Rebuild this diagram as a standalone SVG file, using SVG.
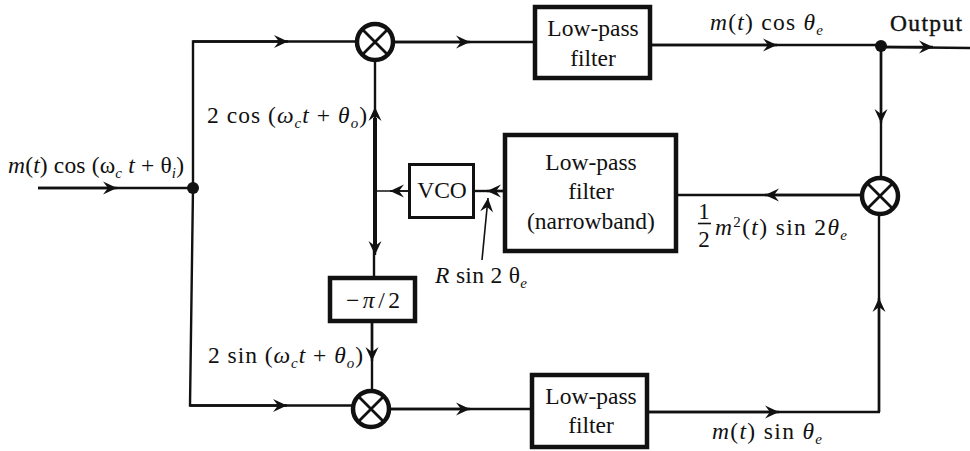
<svg xmlns="http://www.w3.org/2000/svg" width="970" height="451" viewBox="0 0 970 451">
<style>
text{font-family:"Liberation Serif","DejaVu Serif",serif;font-size:23.5px;fill:#111}
.i{font-style:italic}
.s{font-size:15px}
.c{text-anchor:middle}
.box{fill:#fff;stroke:#111}
.w{fill:none;stroke:#111;stroke-width:2.4}
.t{fill:none;stroke:#111;stroke-width:1.6}
.k{fill:none;stroke:#111;stroke-width:4}
.m{fill:#fff;stroke:#111;stroke-width:4.5}
.x{stroke:#111;stroke-width:2.8}
</style>
<defs>
<marker id="a" markerUnits="userSpaceOnUse" markerWidth="18" markerHeight="16" refX="15" refY="8" orient="auto">
<path d="M1 1.500L15 8L1 14.500L6 8Z" fill="#111"/>
</marker>
</defs>
<g id="connectors">
<path class="w" d="M38 188H192"/>
<path class="w" d="M38 188H117" marker-end="url(#a)"/>
<path class="w" d="M193 188V41.500H357"/>
<path class="w" d="M193 188L190 405.500H353"/>
<path class="w" d="M193 41.500H288" marker-end="url(#a)"/>
<path class="w" d="M190 405.500H287" marker-end="url(#a)"/>
<path class="w" d="M393 42H534"/>
<path class="w" d="M393 42H470" marker-end="url(#a)"/>
<path class="w" d="M651 45H881"/>
<path class="w" d="M651 45H777" marker-end="url(#a)"/>
<path class="w" d="M881 46V179"/>
<path class="w" d="M881 46V123" marker-end="url(#a)"/>
<path class="w" d="M881 47L970 48"/>
<path class="w" d="M881 47H933" marker-end="url(#a)"/>
<path class="w" d="M879 214V412"/>
<path class="w" d="M879 412V298" marker-end="url(#a)"/>
<path class="w" d="M648 412H880"/>
<path class="w" d="M648 412H779" marker-end="url(#a)"/>
<path class="w" d="M389 409H530"/>
<path class="w" d="M389 409H470" marker-end="url(#a)"/>
<path class="w" d="M862 195H677"/>
<path class="w" d="M862 195H765" marker-end="url(#a)"/>
<path class="w" d="M504 191H474"/>
<path class="w" d="M504 191H487" marker-end="url(#a)"/>
<path class="t" d="M410 191H375"/>
<path class="t" d="M410 191H390" marker-end="url(#a)"/>
<path class="w" d="M375 60V107"/>
<path class="k" d="M375 191V118"/>
<path class="w" d="M375 191V107" marker-end="url(#a)"/>
<path class="k" d="M375 189V245"/>
<path class="w" d="M375 191V255" marker-end="url(#a)"/>
<path class="w" d="M374 245V277"/>
<path class="w" d="M372 322V391"/>
<path class="w" d="M372 322V361" marker-end="url(#a)"/>
<path class="t" d="M482 260L488 198" marker-end="url(#a)"/>
<circle cx="193" cy="188" r="6" fill="#111"/>
<circle cx="881" cy="46" r="6" fill="#111"/>
</g>
<g id="mixer-top"><circle class="m" cx="375" cy="42" r="18"/><path class="x" d="M363 30L387 54M387 30L363 54"/></g>
<g id="mixer-right"><circle class="m" cx="880" cy="196" r="18"/><path class="x" d="M868 184L892 208M892 184L868 208"/></g>
<g id="mixer-bottom"><circle class="m" cx="371" cy="409" r="18"/><path class="x" d="M359 397L383 421M383 397L359 421"/></g>
<g id="lpf-top"><rect class="box" stroke-width="4.500" x="535" y="7" width="115" height="71"/><text class="c" x="593" y="36">Low-pass</text><text class="c" x="593" y="66">filter</text></g>
<g id="lpf-bottom"><rect class="box" stroke-width="4.500" x="532" y="375" width="115" height="72"/><text class="c" x="591" y="404">Low-pass</text><text class="c" x="591" y="433">filter</text></g>
<g id="lpf-narrow"><rect class="box" stroke-width="4.500" x="505" y="135" width="171" height="116"/><text class="c" x="591" y="170">Low-pass</text><text class="c" x="591" y="199">filter</text><text class="c" x="591" y="229">(narrowband)</text></g>
<g id="vco"><rect class="box" stroke-width="3" x="409.500" y="164.500" width="64" height="53"/><text class="c" x="442" y="198">VCO</text></g>
<g id="phase"><rect class="box" stroke-width="4.500" x="330" y="278" width="85" height="43"/><text x="346" y="308" textLength="54">−<tspan class="i">π</tspan>/2</text></g>
<g id="labels">
<text x="8" y="173" textLength="176"><tspan class="i">m</tspan>(<tspan class="i">t</tspan>) cos (ω<tspan class="i s" dy="5">c</tspan><tspan class="i" dy="-5"> t</tspan> + θ<tspan class="i s" dy="5">i</tspan><tspan dy="-5">)</tspan></text>
<text x="207" y="123" textLength="160">2 cos (<tspan class="i">ω</tspan><tspan class="i s" dy="5">c</tspan><tspan class="i" dy="-5">t</tspan> + <tspan class="i">θ</tspan><tspan class="i s" dy="5">o</tspan><tspan dy="-5">)</tspan></text>
<text x="208" y="363" textLength="155">2 sin (<tspan class="i">ω</tspan><tspan class="i s" dy="5">c</tspan><tspan class="i" dy="-5">t</tspan> + <tspan class="i">θ</tspan><tspan class="i s" dy="5">o</tspan><tspan dy="-5">)</tspan></text>
<text x="435" y="283" textLength="92"><tspan class="i">R</tspan> sin 2 θ<tspan class="i s" dy="5">e</tspan></text>
<text x="710" y="30" textLength="113"><tspan class="i">m</tspan>(<tspan class="i">t</tspan>) cos <tspan class="i">θ</tspan><tspan class="i s" dy="5">e</tspan></text>
<text x="890" y="31" textLength="72" stroke="#111" stroke-width=".4">Output</text>
<text x="704" y="219" class="c" style="font-size:23px">1</text>
<path class="t" d="M698 223.500H711"/>
<text x="704" y="247" class="c" style="font-size:23px">2</text>
<text x="715" y="235" textLength="132"><tspan class="i">m</tspan><tspan class="s" dy="-8">2</tspan><tspan dy="8">(</tspan><tspan class="i">t</tspan>) sin 2<tspan class="i">θ</tspan><tspan class="i s" dy="5">e</tspan></text>
<text x="712" y="439" textLength="110"><tspan class="i">m</tspan>(<tspan class="i">t</tspan>) sin <tspan class="i">θ</tspan><tspan class="i s" dy="5">e</tspan></text>
</g>
</svg>
